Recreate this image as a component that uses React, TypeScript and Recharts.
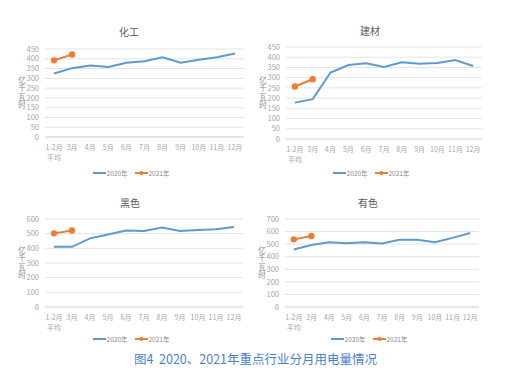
import React from 'react';
import { LineChart, Line, XAxis, YAxis, CartesianGrid, Legend } from 'recharts';

// 月份（"|" 表示换行）
const months = ['1-2月|平均', '3月', '4月', '5月', '6月', '7月', '8月', '9月', '10月', '11月', '12月'];

// 化工
const chem2020 = [325, 352, 365, 358, 380, 387, 408, 380, 395, 408, 427];
const chem2021 = [392, 422];
const chemTicks = [0, 50, 100, 150, 200, 250, 300, 350, 400, 450];

// 建材
const build2020 = [178, 195, 325, 362, 370, 352, 375, 368, 372, 386, 357];
const build2021 = [257, 292];
const buildTicks = [0, 50, 100, 150, 200, 250, 300, 350, 400, 450];

// 黑色
const ferrous2020 = [410, 410, 468, 495, 522, 518, 542, 518, 525, 530, 545];
const ferrous2021 = [502, 522];
const ferrousTicks = [0, 100, 200, 300, 400, 500, 600];

// 有色
const nonferrous2020 = [458, 493, 515, 508, 515, 505, 535, 535, 515, 550, 588];
const nonferrous2021 = [538, 565];
const nonferrousTicks = [0, 100, 200, 300, 400, 500, 600, 700];

const FONT = '"Noto Sans CJK SC", "Noto Sans", sans-serif';
const BLUE = '#5b9bd5';
const ORANGE = '#ed7d31';
const TICK = '#a6a6a6';

const MonthTick = ({ x, y, payload }: any) => {
  const lines = String(payload.value).split('|');
  return (
    <text x={x} y={y} textAnchor="middle" fill={TICK} fontSize={7} fontFamily={FONT}>
      {lines.map((l, i) => (
        <tspan key={i} x={x} dy={i === 0 ? 4.5 : 10}>{l}</tspan>
      ))}
    </text>
  );
};

function Panel({ title, s2020, s2021, ticks, left, top, height, margin, yWidth, titleX, titleY, legendX, legendY, unitX }: any) {
  const data = months.map((m, i) => ({ month: m, y2020: s2020[i], y2021: s2021[i] ?? null }));
  // 半个类目宽度，让点落在类目中间
  const half = (253 - yWidth - margin.right) / months.length / 2;
  return (
    <div style={{ position: 'absolute', left, top, width: 253, height }}>
      <div style={{ position: 'absolute', left: titleX - 30, top: titleY - 8, width: 60, textAlign: 'center', fontSize: 10, color: '#595959', fontFamily: FONT, lineHeight: '16px' }}>
        {title}
      </div>
      <LineChart width={253} height={height} data={data} margin={margin}>
        <CartesianGrid vertical={false} stroke="#e3e3e3" />
        <XAxis dataKey="month" interval={0} tickLine={false} axisLine={{ stroke: '#d9d9d9' }} tick={<MonthTick />} height={30} padding={{ left: half, right: half }} />
        <YAxis
          width={yWidth}
          domain={[0, ticks[ticks.length - 1]]}
          ticks={ticks}
          interval={0}
          axisLine={false}
          tickLine={false}
          tickSize={4}
          tickMargin={2}
          tick={{ fontSize: 7.5, fill: TICK, fontFamily: FONT }}
          label={{
            content: ({ viewBox }: any) => {
              const mid = viewBox.y + viewBox.height / 2;
              return (
                <text x={unitX} y={mid} textAnchor="middle" fill="#8c8c8c" fontSize={7.5} fontFamily={FONT}
                  style={{ writingMode: 'vertical-rl', textOrientation: 'upright', letterSpacing: 1 } as any}>
                  亿千瓦时
                </text>
              );
            },
          }}
        />
        <Legend
          verticalAlign="middle"
          align="center"
          wrapperStyle={{ position: 'absolute', left: legendX - 40, top: legendY - 6, width: 80, height: 12 }}
          content={() => (
            <div style={{ display: 'flex', alignItems: 'center', justifyContent: 'center', height: 12, fontFamily: FONT, fontSize: 6.5, color: '#8c8c8c' }}>
              <svg width={13} height={6}><line x1={0} y1={3} x2={13} y2={3} stroke={BLUE} strokeWidth={2} /></svg>
              <span style={{ marginLeft: 1 }}>2020年</span>
              <svg width={13} height={6} style={{ marginLeft: 7 }}>
                <line x1={0} y1={3} x2={13} y2={3} stroke={ORANGE} strokeWidth={2} />
                <circle cx={6.5} cy={3} r={2} fill={ORANGE} />
              </svg>
              <span style={{ marginLeft: 1 }}>2021年</span>
            </div>
          )}
        />
        <Line dataKey="y2020" stroke={BLUE} strokeWidth={2} dot={false} isAnimationActive={false} />
        <Line dataKey="y2021" stroke={ORANGE} strokeWidth={2} dot={{ r: 2.2, fill: ORANGE, stroke: ORANGE }} isAnimationActive={false} />
      </LineChart>
    </div>
  );
}

export default function App() {
  return (
    <div style={{ position: 'absolute', left: 0, top: 0, width: 506, height: 392, background: '#fff', overflow: 'hidden' }}>
      <Panel title="化工" s2020={chem2020} s2021={chem2021} ticks={chemTicks}
        left={0} top={0} height={190} yWidth={45}
        margin={{ top: 49, right: 9, bottom: 23, left: 0 }}
        titleX={129} titleY={32} legendX={131} legendY={173} unitX={22} />
      <Panel title="建材" s2020={build2020} s2021={build2021} ticks={buildTicks}
        left={253} top={0} height={190} yWidth={33}
        margin={{ top: 47, right: 24, bottom: 21, left: 0 }}
        titleX={117} titleY={31} legendX={118} legendY={173} unitX={10} />
      <Panel title="黑色" s2020={ferrous2020} s2021={ferrous2021} ticks={ferrousTicks}
        left={0} top={190} height={160} yWidth={45}
        margin={{ top: 29, right: 10, bottom: 13, left: 0 }}
        titleX={130} titleY={13} legendX={131} legendY={149} unitX={22} />
      <Panel title="有色" s2020={nonferrous2020} s2021={nonferrous2021} ticks={nonferrousTicks}
        left={253} top={190} height={160} yWidth={32}
        margin={{ top: 29, right: 27, bottom: 13, left: 0 }}
        titleX={115} titleY={13} legendX={116} legendY={149} unitX={9} />
      <div style={{ position: 'absolute', left: 0, top: 350, width: 511, textAlign: 'center', fontFamily: FONT, fontSize: 12.5, color: '#4a7fd2', whiteSpace: 'pre', lineHeight: '18px' }}>
        {'图4  2020、2021年重点行业分月用电量情况'}
      </div>
    </div>
  );
}
